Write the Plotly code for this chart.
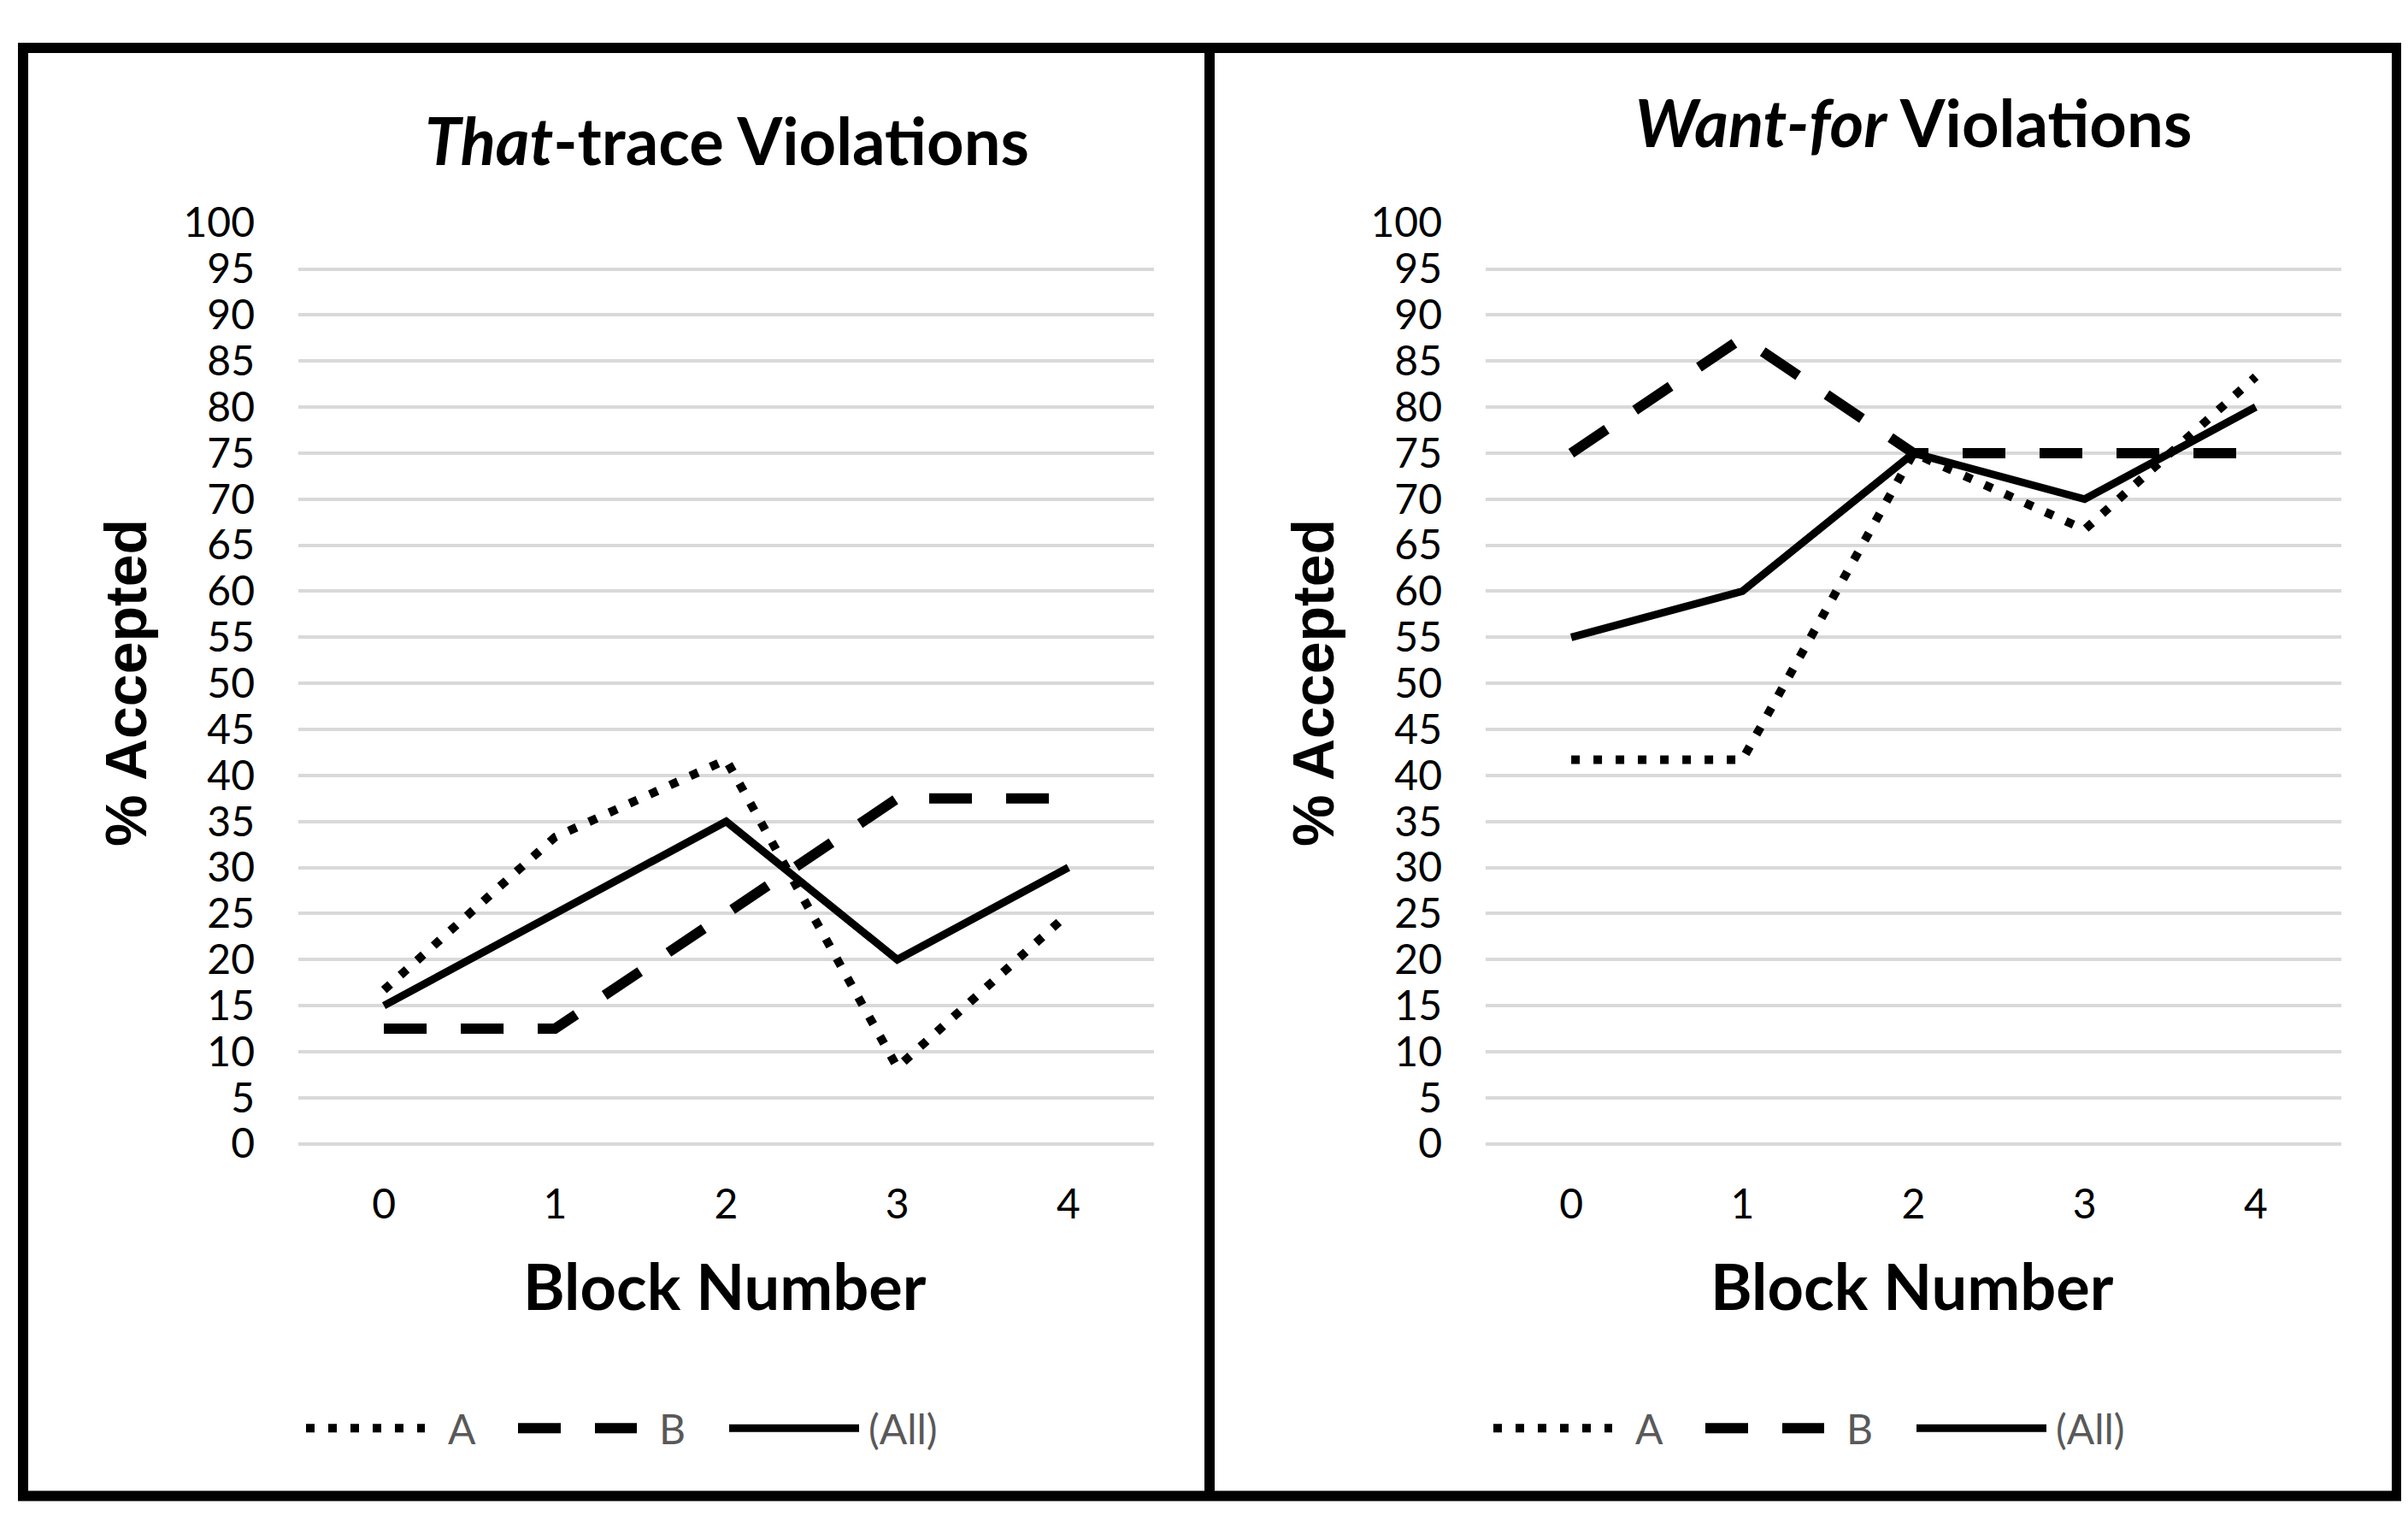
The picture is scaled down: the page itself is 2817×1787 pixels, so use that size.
import plotly.graph_objects as go

W, H = 2817, 1787

# ---------------- data ----------------
blocks = [0, 1, 2, 3, 4]
block_labels = ["0", "1", "2", "3", "4"]
y_ticks = list(range(0, 101, 5))
series_names = ["A", "B", "(All)"]

that_A = [16.7, 33.3, 41.7, 8.3, 25.0]
that_B = [12.5, 12.5, 25.0, 37.5, 37.5]
that_all = [15, 25, 35, 20, 30]

want_A = [41.7, 41.7, 75.0, 66.7, 83.3]
want_B = [75.0, 87.5, 75.0, 75.0, 75.0]
want_all = [55, 60, 75, 70, 80]

titles = ["<i>That</i>-trace Violations", "<i>Want-for</i> Violations"]
y_title = "% Accepted"
x_title = "Block Number"

# ---------------- styles ----------------
styles = {
    "A": dict(color="black", width=10, dash="10px,16px"),
    "B": dict(color="black", width=12, dash="50px,40px"),
    "(All)": dict(color="black", width=9, dash="solid"),
}
LATO = "Lato"


def px(x):
    return x / W


def py(y):
    return 1 - y / H


fig = go.Figure()

panels = [
    dict(xa="x", ya="y", data=[that_A, that_B, that_all], x0=341, title_x=842, title_y=130),
    dict(xa="x2", ya="y2", data=[want_A, want_B, want_all], x0=1730, title_x=2230, title_y=108),
]

for p in panels:
    for name, vals in zip(series_names, p["data"]):
        fig.add_trace(go.Scatter(
            x=blocks, y=vals, mode="lines", name=name,
            line=styles[name], xaxis=p["xa"], yaxis=p["ya"],
            showlegend=False, hoverinfo="skip",
        ))

ydom = [py(1342.5), py(230)]
axis_common_x = dict(
    range=[-0.5, 4.5], tickvals=blocks, ticktext=block_labels,
    showgrid=False, zeroline=False, showline=False, ticks="",
    tickfont=dict(family=LATO, size=48, color="black"),
    ticklabelstandoff=38, fixedrange=True,
)
axis_common_y = dict(
    range=[0, 100], tickvals=y_ticks, domain=ydom,
    showgrid=True, gridcolor="#d9d9d9", gridwidth=4,
    zeroline=True, zerolinecolor="#d9d9d9", zerolinewidth=4,
    showline=False, ticks="",
    tickfont=dict(family=LATO, size=48, color="black"),
    ticklabelstandoff=50, fixedrange=True,
)

fig.update_layout(
    width=W, height=H, autosize=False,
    margin=dict(l=0, r=0, t=0, b=0, pad=0),
    paper_bgcolor="white", plot_bgcolor="white",
    showlegend=False,
    xaxis=dict(domain=[px(341), px(1342)], anchor="y", **axis_common_x),
    yaxis=dict(anchor="x", **axis_common_y),
    xaxis2=dict(domain=[px(1730), px(2731)], anchor="y2", **axis_common_x),
    yaxis2=dict(anchor="x2", **axis_common_y),
)

annotations = []
shapes = []
for i, p in enumerate(panels):
    off = p["x0"] - 341
    # title
    annotations.append(dict(
        text=titles[i], x=px(p["title_x"]), y=py(p["title_y"]),
        xref="paper", yref="paper", xanchor="center", yanchor="middle",
        showarrow=False, font=dict(family=LATO, size=76, color="black", weight="bold"),
    ))
    # y title
    annotations.append(dict(
        text=y_title, x=px(139 + off), y=py(786), textangle=-90,
        xref="paper", yref="paper", xanchor="center", yanchor="middle",
        showarrow=False, font=dict(family="Liberation Sans", size=68, color="black", weight="bold"),
    ))
    # x title
    annotations.append(dict(
        text=x_title, x=px(840 + off), y=py(1514),
        xref="paper", yref="paper", xanchor="center", yanchor="middle",
        showarrow=False, font=dict(family=LATO, size=74, color="black", weight="bold"),
    ))
    # legend
    leg_y = py(1686)
    samples = [(350, 489, 532, "center"), (598, 737, 778, "center"), (845, 997, 1006, "left")]
    for name, (sx0, sx1, tx, anc) in zip(series_names, samples):
        st = styles[name]
        shapes.append(dict(
            type="line", xref="paper", yref="paper",
            x0=px(sx0 + off), x1=px(sx1 + off), y0=leg_y, y1=leg_y,
            line=dict(color=st["color"], width=st["width"], dash=st["dash"]),
        ))
        annotations.append(dict(
            text=name, x=px(tx + off), y=leg_y, xref="paper", yref="paper",
            xanchor=anc, yanchor="middle", showarrow=False,
            font=dict(family=LATO, size=48, color="#595959"),
        ))

# outer frame and divider
shapes.append(dict(type="rect", xref="paper", yref="paper",
                   x0=px(19), x1=px(2796), y0=py(1768), y1=py(18.5),
                   line=dict(color="black", width=12)))
shapes.append(dict(type="line", xref="paper", yref="paper",
                   x0=px(1407), x1=px(1407), y0=py(1768), y1=py(18.5),
                   line=dict(color="black", width=12)))

fig.update_layout(annotations=annotations, shapes=shapes)
fig.write_html("out.html")
